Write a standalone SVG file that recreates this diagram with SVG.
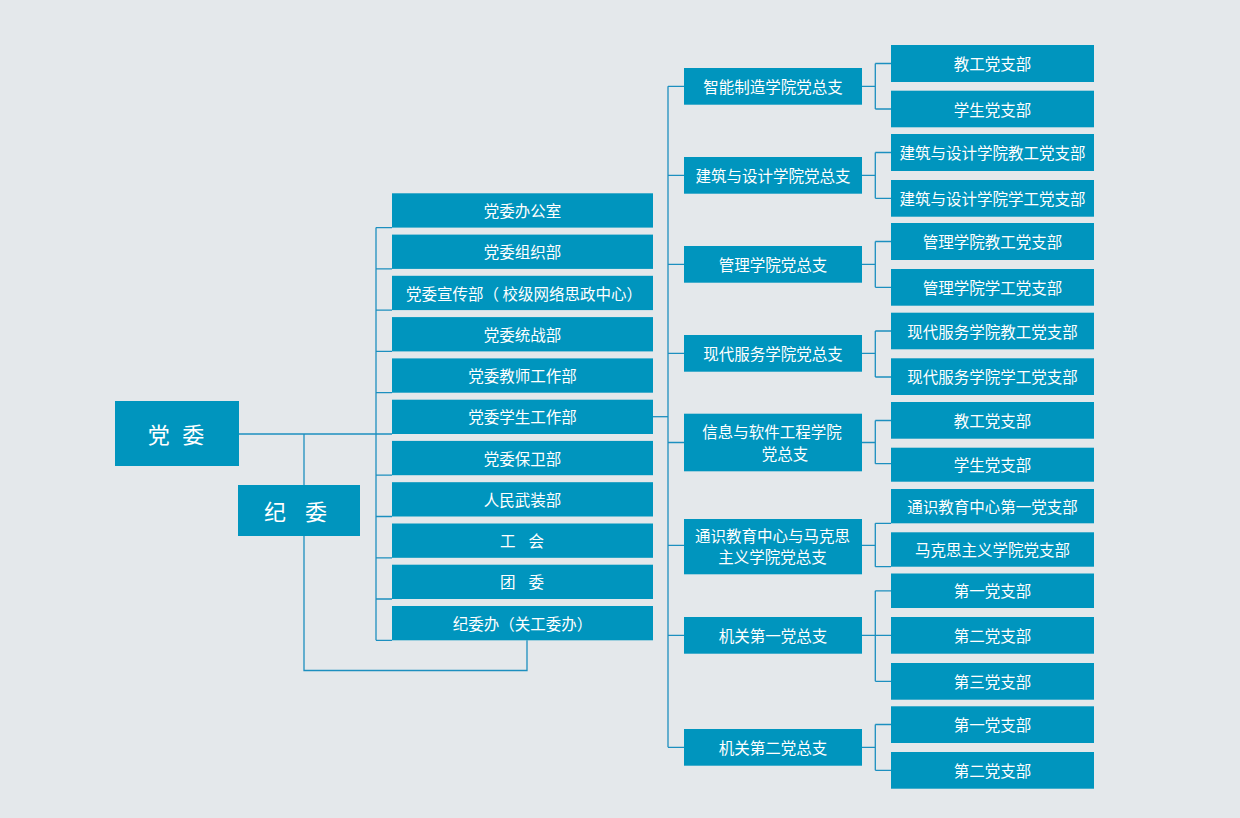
<svg xmlns="http://www.w3.org/2000/svg" width="1240" height="818" viewBox="0 0 1240 818">
<style>
.bg{fill:#e4e8eb}
.box{fill:#0095be}
.t{font-family:"Noto Sans CJK SC","Noto Sans",sans-serif;font-size:15.5px;fill:#ffffff;text-anchor:middle}
.big{font-family:"Noto Sans CJK SC","Noto Sans",sans-serif;font-size:22px;fill:#ffffff}
.sp{font-family:"Noto Sans CJK SC","Noto Sans",sans-serif;font-size:15.5px;fill:#ffffff}
.ln{fill:none;stroke:#1c8fbf;stroke-width:1.3}
</style>
<rect class="bg" x="0" y="0" width="1240" height="818"/>

<g id="connectors">
  <!-- 党委 / 纪委 trunk -->
  <path class="ln" d="M239 434 H392"/>
  <path class="ln" d="M304 434 V485"/>
  <path class="ln" d="M304 536 V670.5 H527 V640.3"/>
  <!-- left bracket -->
  <path class="ln" d="M376 227.6 V640.3"/>
  <path class="ln" d="M376 227.6 H392 M376 268.9 H392 M376 310.1 H392 M376 351.4 H392 M376 392.7 H392 M376 475.2 H392 M376 516.5 H392 M376 557.8 H392 M376 599 H392 M376 640.3 H392"/>
  <!-- to middle column -->
  <path class="ln" d="M653 416.7 H668"/>
  <path class="ln" d="M668 86.3 V747.3"/>
  <path class="ln" d="M668 86.3 H684 M668 175.3 H684 M668 264.3 H684 M668 353.3 H684 M668 442.5 H684 M668 545.3 H684 M668 635.3 H684 M668 747.3 H684"/>
  <!-- right brackets -->
  <path class="ln" d="M862 86.3 H875.3 M875.3 63.5 V109 M875.3 63.5 H891 M875.3 109 H891"/>
  <path class="ln" d="M862 175.3 H875.3 M875.3 152.5 V198.3 M875.3 152.5 H891 M875.3 198.3 H891"/>
  <path class="ln" d="M862 264.3 H875.3 M875.3 241.5 V287.3 M875.3 241.5 H891 M875.3 287.3 H891"/>
  <path class="ln" d="M862 353.3 H875.3 M875.3 331 V377 M875.3 331 H891 M875.3 377 H891"/>
  <path class="ln" d="M862 442.5 H875.3 M875.3 420.5 V463.7 M875.3 420.5 H891 M875.3 463.7 H891"/>
  <path class="ln" d="M862 545.3 H875.3 M875.3 523.3 V566.7 M875.3 523.3 H891 M875.3 566.7 H891"/>
  <path class="ln" d="M862 635.3 H891 M875.3 590.8 V681.3 M875.3 590.8 H891 M875.3 681.3 H891"/>
  <path class="ln" d="M862 747.3 H875.3 M875.3 724.5 V770.3 M875.3 724.5 H891 M875.3 770.3 H891"/>
</g>

<g id="n-dangwei"><rect class="box" x="115" y="401" width="124" height="65"/><text class="big" x="147.8" y="442.9" letter-spacing="3.8" xml:space="preserve">党 委</text></g>
<g id="n-jiwei"><rect class="box" x="238" y="485" width="122" height="51"/><text class="big" x="264" y="520" letter-spacing="7" xml:space="preserve">纪 委</text></g>

<g id="n-l0"><rect class="box" x="392" y="193.3" width="261" height="34.3"/><text class="t" x="522.5" y="217">党委办公室</text></g>
<g id="n-l1"><rect class="box" x="392" y="234.6" width="261" height="34.3"/><text class="t" x="522.5" y="258.3">党委组织部</text></g>
<g id="n-l2"><rect class="box" x="392" y="275.8" width="261" height="34.3"/><text class="t" x="524" y="299.5" xml:space="preserve">党委宣传部（ 校级网络思政中心）</text></g>
<g id="n-l3"><rect class="box" x="392" y="317.1" width="261" height="34.3"/><text class="t" x="522.5" y="340.8">党委统战部</text></g>
<g id="n-l4"><rect class="box" x="392" y="358.4" width="261" height="34.3"/><text class="t" x="522.5" y="382.1">党委教师工作部</text></g>
<g id="n-l5"><rect class="box" x="392" y="399.7" width="261" height="34.3"/><text class="t" x="522.5" y="423.4">党委学生工作部</text></g>
<g id="n-l6"><rect class="box" x="392" y="440.9" width="261" height="34.3"/><text class="t" x="522.5" y="464.6">党委保卫部</text></g>
<g id="n-l7"><rect class="box" x="392" y="482.2" width="261" height="34.3"/><text class="t" x="522.5" y="505.9">人民武装部</text></g>
<g id="n-l8"><rect class="box" x="392" y="523.5" width="261" height="34.3"/><text class="sp" x="500" y="547.2" letter-spacing="4.8" xml:space="preserve">工 会</text></g>
<g id="n-l9"><rect class="box" x="392" y="564.7" width="261" height="34.3"/><text class="sp" x="500" y="588.4" letter-spacing="4.8" xml:space="preserve">团 委</text></g>
<g id="n-l10"><rect class="box" x="392" y="606" width="261" height="34.3"/><text class="t" x="522.5" y="629.7">纪委办（关工委办）</text></g>

<g id="n-m0"><rect class="box" x="684" y="68" width="178" height="36.7"/><text class="t" x="773" y="92.9">智能制造学院党总支</text></g>
<g id="n-m1"><rect class="box" x="684" y="157" width="178" height="36.7"/><text class="t" x="773" y="181.9">建筑与设计学院党总支</text></g>
<g id="n-m2"><rect class="box" x="684" y="246" width="178" height="36.7"/><text class="t" x="773" y="270.9">管理学院党总支</text></g>
<g id="n-m3"><rect class="box" x="684" y="335" width="178" height="36.7"/><text class="t" x="773" y="359.9">现代服务学院党总支</text></g>
<g id="n-m4"><rect class="box" x="684" y="413.7" width="178" height="57.6"/><text class="t" x="772" y="437.9">信息与软件工程学院</text><text class="t" x="785" y="459.6">党总支</text></g>
<g id="n-m5"><rect class="box" x="684" y="519" width="178" height="55.3"/><text class="t" x="772.5" y="541.9">通识教育中心与马克思</text><text class="t" x="772.5" y="562.9">主义学院党总支</text></g>
<g id="n-m6"><rect class="box" x="684" y="617" width="178" height="36.7"/><text class="t" x="773" y="641.9">机关第一党总支</text></g>
<g id="n-m7"><rect class="box" x="684" y="729" width="178" height="36.7"/><text class="t" x="773" y="753.9">机关第二党总支</text></g>

<g id="n-r1"><rect class="box" x="891" y="45" width="203" height="37"/><text class="t" x="992.5" y="70">教工党支部</text></g>
<g id="n-r2"><rect class="box" x="891" y="90.7" width="203" height="36.6"/><text class="t" x="992.5" y="115.5">学生党支部</text></g>
<g id="n-r3"><rect class="box" x="891" y="134" width="203" height="37"/><text class="t" x="992.5" y="159">建筑与设计学院教工党支部</text></g>
<g id="n-r4"><rect class="box" x="891" y="180" width="203" height="36.7"/><text class="t" x="992.5" y="204.8">建筑与设计学院学工党支部</text></g>
<g id="n-r5"><rect class="box" x="891" y="223" width="203" height="37"/><text class="t" x="992.5" y="248">管理学院教工党支部</text></g>
<g id="n-r6"><rect class="box" x="891" y="269" width="203" height="36.7"/><text class="t" x="992.5" y="293.8">管理学院学工党支部</text></g>
<g id="n-r7"><rect class="box" x="891" y="312.7" width="203" height="36.6"/><text class="t" x="992.5" y="337.5">现代服务学院教工党支部</text></g>
<g id="n-r8"><rect class="box" x="891" y="358.3" width="203" height="36.7"/><text class="t" x="992.5" y="383.2">现代服务学院学工党支部</text></g>
<g id="n-r9"><rect class="box" x="891" y="402" width="203" height="36.7"/><text class="t" x="992.5" y="426.8">教工党支部</text></g>
<g id="n-r10"><rect class="box" x="891" y="447.7" width="203" height="34"/><text class="t" x="992.5" y="471">学生党支部</text></g>
<g id="n-r11"><rect class="box" x="891" y="489" width="203" height="34.3"/><text class="t" x="992.5" y="512.7">通识教育中心第一党支部</text></g>
<g id="n-r12"><rect class="box" x="891" y="532.3" width="203" height="34.4"/><text class="t" x="992.5" y="556">马克思主义学院党支部</text></g>
<g id="n-r13"><rect class="box" x="891" y="573.5" width="203" height="34.5"/><text class="t" x="992.5" y="597.3">第一党支部</text></g>
<g id="n-r14"><rect class="box" x="891" y="617" width="203" height="36.7"/><text class="t" x="992.5" y="641.8">第二党支部</text></g>
<g id="n-r15"><rect class="box" x="891" y="663" width="203" height="36.7"/><text class="t" x="992.5" y="687.8">第三党支部</text></g>
<g id="n-r16"><rect class="box" x="891" y="706.3" width="203" height="36.7"/><text class="t" x="992.5" y="731.2">第一党支部</text></g>
<g id="n-r17"><rect class="box" x="891" y="752" width="203" height="36.7"/><text class="t" x="992.5" y="776.8">第二党支部</text></g>
</svg>
